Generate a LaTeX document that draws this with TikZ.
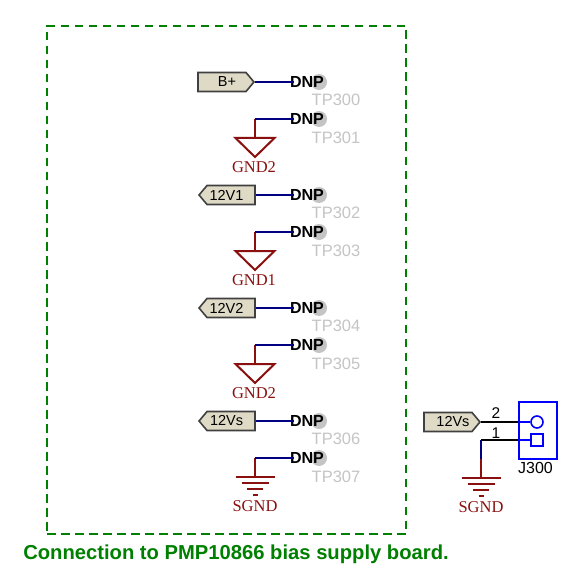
\documentclass[tikz,border=0pt]{standalone}
\usepackage{fontspec}
\setmainfont{Liberation Sans}
\newfontfamily\gndfont{Liberation Serif}
\usetikzlibrary{positioning,shapes.symbols}
\definecolor{netblue}{HTML}{000080}
\definecolor{gndred}{HTML}{8A0F0F}
\definecolor{framegreen}{HTML}{008000}
\definecolor{portfill}{HTML}{DEDAC6}
\definecolor{tpgray}{HTML}{C4C4C4}
\tikzset{
  port/.style={signal, signal pointer angle=100, draw=black!75, fill=portfill, line width=1.6pt, minimum width=56pt, minimum height=19pt, inner sep=0pt, font=\fontsize{14.5}{14.5}\selectfont},
  tpdot/.style={circle, fill=tpgray, minimum size=16pt, inner sep=0pt},
  dnp/.style={font=\fontsize{16}{16}\selectfont\bfseries, inner sep=0pt},
  tplabel/.style={text=tpgray, font=\fontsize{16.5}{16.5}\selectfont, inner sep=0pt},
  gndlabel/.style={text=gndred, font=\fontsize{16.5}{16.5}\selectfont\gndfont, inner sep=0pt},
  pinnum/.style={font=\fontsize{15.5}{15.5}\selectfont, inner sep=0pt},
  net/.style={draw=netblue, line width=2pt},
  gndnet/.style={draw=gndred, line width=2pt},
  wire/.style={draw=black, line width=2pt},
  pics/gndtri/.style={code={\draw[gndnet] (-19.5,0) -- (19.5,0) -- (0,19) -- cycle;}},
  pics/gndbars/.style={code={
    \draw[gndnet] (-19.5,0) -- (19.5,0);
    \draw[gndnet] (-13.5,6) -- (13.5,6);
    \draw[gndnet] (-8,12) -- (8,12);
    \draw[gndnet] (-2.5,18) -- (2.5,18);
  }}
}
\begin{document}
\begin{tikzpicture}[x=1pt, y=-1pt]
  \useasboundingbox (0,0) rectangle (588,572);
  % Frame
  \node (frame) [draw=framegreen, dash pattern=on 8.5pt off 5.5pt, line width=2pt, minimum width=359pt, minimum height=508pt, inner sep=0pt] at (226.5,280) {};
  \node (title) [text=framegreen, font=\fontsize{20.2}{20.2}\selectfont\bfseries, inner sep=0pt] at (236,554) {Connection to PMP10866 bias supply board.};

  % Test points
  \node (dot300) [tpdot] at (319,82) {};
  \node (dot301) [tpdot] at (319,119) {};
  \node (dot302) [tpdot] at (319,195) {};
  \node (dot303) [tpdot] at (319,232) {};
  \node (dot304) [tpdot] at (319,308) {};
  \node (dot305) [tpdot] at (319,345) {};
  \node (dot306) [tpdot] at (319,421) {};
  \node (dot307) [tpdot] at (319,458) {};
  \node (tp300) [tplabel] at (336,99.5) {TP300};
  \node (tp301) [tplabel] at (336,137.5) {TP301};
  \node (tp302) [tplabel] at (336,212.5) {TP302};
  \node (tp303) [tplabel] at (336,250.5) {TP303};
  \node (tp304) [tplabel] at (336,325.5) {TP304};
  \node (tp305) [tplabel] at (336,363.5) {TP305};
  \node (tp306) [tplabel] at (336,438.5) {TP306};
  \node (tp307) [tplabel] at (336,476.5) {TP307};

  % DNP marks
  \node (dnp300) [dnp] at (307,82) {DNP};
  \node (dnp301) [dnp] at (307,119) {DNP};
  \node (dnp302) [dnp] at (307,195) {DNP};
  \node (dnp303) [dnp] at (307,232) {DNP};
  \node (dnp304) [dnp] at (307,308) {DNP};
  \node (dnp305) [dnp] at (307,345) {DNP};
  \node (dnp306) [dnp] at (307,421) {DNP};
  \node (dnp307) [dnp] at (307,458) {DNP};

  % Ports
  \node (bplus) [port, signal to=east, anchor=east] at (255,82) {\hspace*{10pt}B+};
  \node (v1) [port, signal to=west, anchor=west] at (198,195) {12V1\hspace*{9pt}};
  \node (v2) [port, signal to=west, anchor=west] at (198,308) {12V2\hspace*{9pt}};
  \node (vs) [port, signal to=west, anchor=west] at (198,421) {12Vs\hspace*{9pt}};
  \node (vsj) [port, signal to=east, anchor=east] at (481,422) {\hspace*{10pt}12Vs};

  % Grounds
  \coordinate (gnd301) at (255,138);
  \coordinate (gnd303) at (255,251);
  \coordinate (gnd305) at (255,364);
  \coordinate (gnd307) at (255,477);
  \coordinate (gndj) at (481,478);
  \coordinate (corner301) at (255,119);
  \coordinate (corner303) at (255,232);
  \coordinate (corner305) at (255,345);
  \coordinate (corner307) at (255,458);
  \coordinate (cornerj) at (481,440);
  \coordinate (midj) at (481,459);
  \pic at (gnd301) {gndtri};
  \pic at (gnd303) {gndtri};
  \pic at (gnd305) {gndtri};
  \pic at (gnd307) {gndbars};
  \pic at (gndj) {gndbars};
  \node (lbl301) [gndlabel] at (254,167) {GND2};
  \node (lbl303) [gndlabel] at (254,280) {GND1};
  \node (lbl305) [gndlabel] at (254,393) {GND2};
  \node (lbl307) [gndlabel] at (255,506) {SGND};
  \node (lblj) [gndlabel] at (481,507) {SGND};

  % Nets
  \draw[net] (bplus.east) -- ([xshift=4pt]dnp300.west);
  \draw[net] (v1.east) -- ([xshift=4pt]dnp302.west);
  \draw[net] (v2.east) -- ([xshift=4pt]dnp304.west);
  \draw[net] (vs.east) -- ([xshift=4pt]dnp306.west);
  \draw[gndnet] (corner301) -- (gnd301);
  \draw[gndnet] (corner303) -- (gnd303);
  \draw[gndnet] (corner305) -- (gnd305);
  \draw[gndnet] (corner307) -- (gnd307);
  \draw[net] (corner301) -- ([xshift=4pt]dnp301.west);
  \draw[net] (corner303) -- ([xshift=4pt]dnp303.west);
  \draw[net] (corner305) -- ([xshift=4pt]dnp305.west);
  \draw[net] (corner307) -- ([xshift=4pt]dnp307.west);

  % Connector
  \node (j300) [draw=blue, line width=2pt, minimum width=38pt, minimum height=57pt, inner sep=0pt] at (538,430.5) {};
  \node (pin2) [circle, draw=blue, line width=1.6pt, minimum size=12pt, inner sep=0pt] at (537,422) {};
  \node (pin1) [rectangle, draw=blue, line width=1.6pt, minimum size=11.5pt, inner sep=0pt] at (537,440) {};
  \node (j300lbl) [font=\fontsize{16}{16}\selectfont, inner sep=0pt] at (535.5,468) {J300};
  \node (num2) [pinnum] at (496,413) {2};
  \node (num1) [pinnum] at (496,433) {1};
  \draw[wire] (vsj.east) -- (j300.west |- pin2);
  \draw[wire] (j300.west |- pin1) -- (cornerj);
  \draw[net] (cornerj) -- (midj);
  \draw[gndnet] (midj) -- (gndj);
  \draw[draw=blue, line width=1.6pt] (j300.west |- pin2) -- (pin2);
  \draw[draw=blue, line width=1.6pt] (j300.west |- pin1) -- (pin1);
\end{tikzpicture}
\end{document}
